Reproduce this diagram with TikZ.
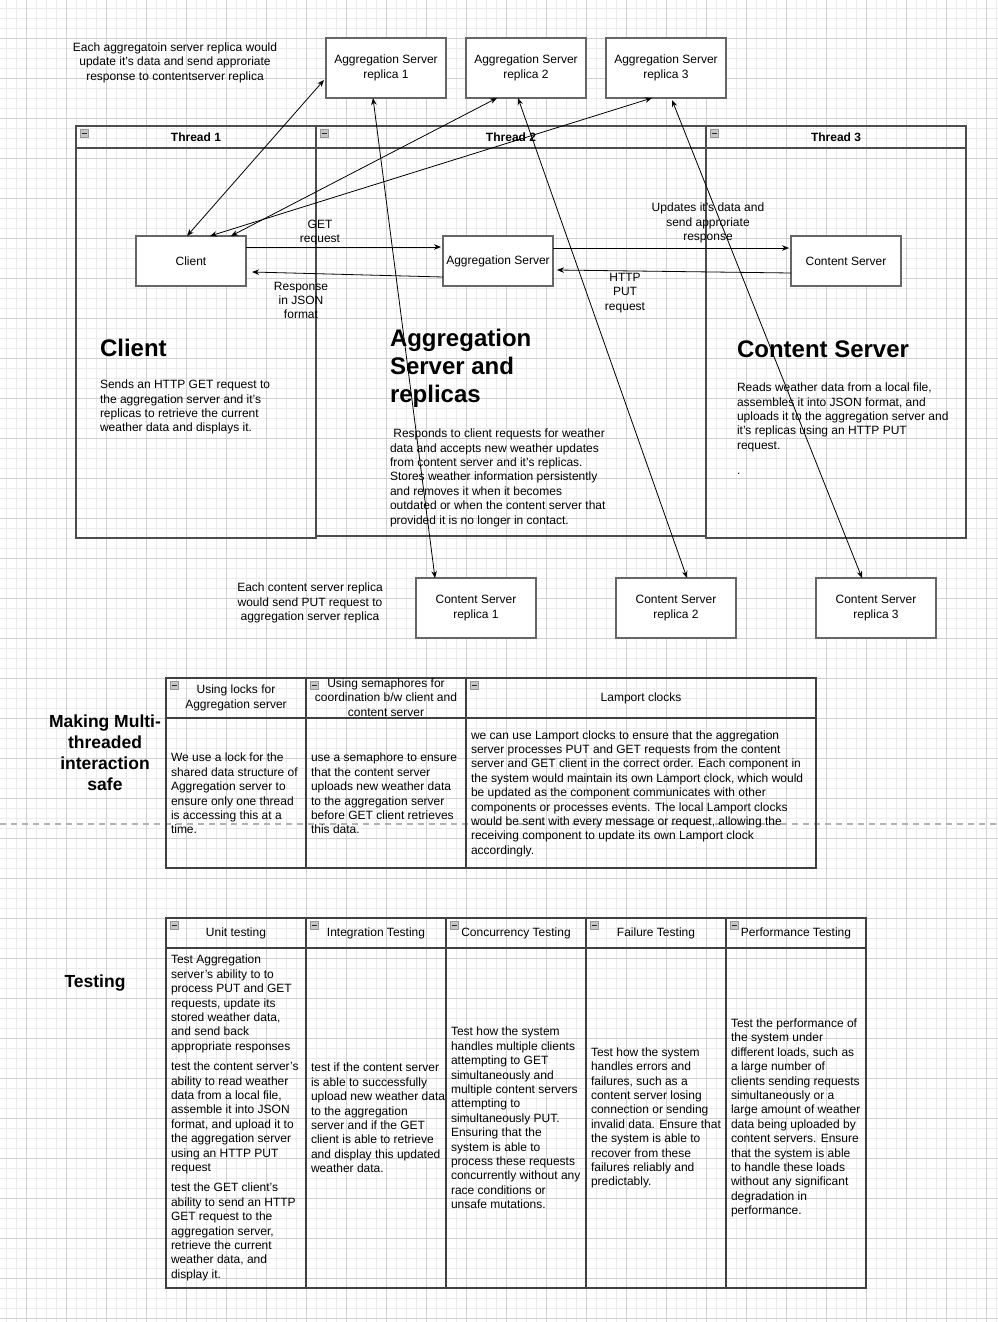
\documentclass[tikz,border=0pt]{standalone}
\usepackage{fontspec}
\setmainfont{Liberation Sans}
\usetikzlibrary{arrows.meta,calc}
\newcommand\mnicon[2]{%
  \draw[fill=gray!45, draw=gray!80, line width=0.5pt] (#1,#2) rectangle ++(8,8);
  \draw[gray!30!black, line width=0.9pt] (#1+1.5,#2+4) -- ++(5,0);}
\begin{document}
\begin{tikzpicture}[x=1pt,y=-1pt,
  >={Stealth[length=7pt,width=5.5pt]},
  every node/.style={font=\fontsize{12}{14.4}\selectfont, inner sep=0pt, outer sep=0pt},
  box/.style={draw=black!60, line width=1.2pt, fill=white, minimum width=120pt, minimum height=60pt, align=center},
  sbox/.style={box, minimum width=110pt, minimum height=50pt},
  lane/.style={draw=black!70, line width=1.3pt},
  tbl/.style={draw=black!75, line width=1.3pt},
  lanehead/.style={font=\fontsize{12}{14.4}\selectfont\bfseries},
  heading/.style={font=\fontsize{24}{28}\selectfont\bfseries, align=left},
  sechead/.style={font=\fontsize{17.5}{21}\selectfont\bfseries, align=center},
  para/.style={align=left},
  note/.style={align=center},
  conn/.style={draw=black, line width=0.8pt},
]
\useasboundingbox (0,0) rectangle (998,1322);
\fill[white] (0,0) rectangle (998,1322);
% grid
\foreach \i in {0,...,99} \draw[black!8, line width=0.5pt] (\i*10+6,0) -- (\i*10+6,1322);
\foreach \i in {0,...,132} \draw[black!8, line width=0.5pt] (0,\i*10+8) -- (998,\i*10+8);
\foreach \i in {0,...,24} \draw[black!18, line width=0.6pt] (\i*40+26,0) -- (\i*40+26,1322);
\foreach \i in {0,...,33} \draw[black!18, line width=0.6pt] (0,\i*40-2) -- (998,\i*40-2);
% page break
\draw[black!30, line width=1.2pt, dash pattern=on 6pt off 5pt] (0,824) -- (998,824);

% lanes
\draw[lane] (76,126) rectangle (316,538);
\draw[lane] (76,148) -- (316,148);
\draw[lane] (316,126) rectangle (706,536);
\draw[lane] (316,148) -- (706,148);
\draw[lane] (706,126) rectangle (966,538);
\draw[lane] (706,148) -- (966,148);
\mnicon{80}{129}\mnicon{320}{129}\mnicon{710}{129}
\node[lanehead] (t1) at (196,137.5) {Thread 1};
\node[lanehead] (t2) at (511,137.5) {Thread 2};
\node[lanehead] (t3) at (836,137.5) {Thread 3};

% lane texts
\node[heading, anchor=north west] (hcl) at (100,339) {Client};
\node[para, anchor=north west] (tcl) at (100,380) {Sends an HTTP GET request to\\the aggregation server and it's\\replicas to retrieve the current\\weather data and displays it.};
\node[heading, anchor=north west] (hag) at (390,329) {Aggregation\\Server and\\replicas};
\node[para, anchor=north west] (tag) at (390,429) {\ Responds to client requests for weather\\data and accepts new weather updates\\from content server and it's replicas.\\Stores weather information persistently\\and removes it when it becomes\\outdated or when the content server that\\provided it is no longer in contact.};
\node[heading, anchor=north west] (hcs) at (737,341) {Content Server};
\node[para, anchor=north west] (tcs) at (737,383) {Reads weather data from a local file,\\assembles it into JSON format, and\\uploads it to the aggregation server and\\it's replicas using an HTTP PUT\\request.};
\node[anchor=base west] (dot) at (737,474) {.};

% notes
\node[note] (n1) at (175,62.5) {Each aggregatoin server replica would\\update it's data and send approriate\\response to contentserver replica};
\node[note] (n2) at (310,603) {Each content server replica\\would send PUT request to\\aggregation server replica};

% boxes
\node[box] (asr1) at (386,68) {Aggregation Server\\replica 1};
\node[box] (asr2) at (526,68) {Aggregation Server\\replica 2};
\node[box] (asr3) at (666,68) {Aggregation Server\\replica 3};
\node[box] (csr1) at (476,608) {Content Server\\replica 1};
\node[box] (csr2) at (676,608) {Content Server\\replica 2};
\node[box] (csr3) at (876,608) {Content Server\\replica 3};
\node[sbox] (client) at (191,261) {Client};
\node[sbox] (agg) at (498,261) {Aggregation Server};
\node[sbox] (cs) at (846,261) {Content Server};

% diagonal connectors
\draw[conn,<->] ([xshift=-4]client.north) -- ([xshift=-2,yshift=-12]asr1.west);
\draw[conn,<->] ([xshift=19]client.north) -- ([xshift=-14]asr3.south);
\draw[conn,<->] ([xshift=40]client.north) -- ([xshift=-29]asr2.south);
\draw[conn,<->] ([xshift=-13]asr1.south) -- ([xshift=-41]csr1.north);
\draw[conn,<->] ([xshift=-8]asr2.south) -- ([xshift=11]csr2.north);
\draw[conn,<->] ([xshift=6,yshift=-2]asr3.south) -- ([xshift=-14]csr3.north);

% horizontal connectors
\draw[conn,->] ([yshift=14]client.east) -- ([xshift=-2,yshift=14]agg.west);
\draw[conn,->] ([yshift=-16]agg.west) -- ([xshift=6,yshift=-11]client.east);
\draw[conn,->] ([yshift=13]agg.east) -- ([xshift=-2,yshift=13]cs.west);
\draw[conn,->] ([yshift=-12]cs.west) -- ([xshift=4,yshift=-9]agg.east);
\node[note] (l1) at (320,232.5) {GET\\request};
\node[note] (l2) at (301,300.5) {Response\\in JSON\\format};
\node[note] (l3) at (708,223) {Updates it's data and\\send approriate\\response};
\node[note] (l4) at (625,293) {HTTP\\PUT\\request};

% multi-threaded table
\node[sechead] (mt) at (105,752.5) {Making Multi-\\threaded\\interaction\\safe};
\draw[tbl] (166,678) rectangle (816,868);
\draw[tbl] (166,718) -- (816,718);
\draw[tbl] (306,678) -- (306,868);
\draw[tbl] (466,678) -- (466,868);
\mnicon{170}{681}\mnicon{310}{681}\mnicon{470}{681}
\node[note] (mh1) at (236,698) {Using locks for\\Aggregation server};
\node[note] (mh2) at (386,697.5) {Using semaphores for\\coordination b/w client and\\content server};
\node[note] (mh3) at (641,698) {Lamport clocks};
\node[para, anchor=west] (mb1) at (171,793.5) {We use a lock for the\\shared data structure of\\Aggregation server to\\ensure only one thread\\is accessing this at a\\time.};
\node[para, anchor=west] (mb2) at (311,793.5) {use a semaphore to ensure\\that the content server\\uploads new weather data\\to the aggregation server\\before GET client retrieves\\this data.};
\node[para, anchor=west] (mb3) at (471,793.5) {we can use Lamport clocks to ensure that the aggregation\\server processes PUT and GET requests from the content\\server and GET client in the correct order. Each component in\\the system would maintain its own Lamport clock, which would\\be updated as the component communicates with other\\components or processes events. The local Lamport clocks\\would be sent with every message or request, allowing the\\receiving component to update its own Lamport clock\\accordingly.};

% testing table
\node[sechead] (ts) at (95,983.5) {Testing};
\draw[tbl] (166,918) rectangle (866,1288);
\draw[tbl] (166,948) -- (866,948);
\foreach \x in {306,446,586,726} \draw[tbl] (\x,918) -- (\x,1288);
\mnicon{170}{921}\mnicon{310}{921}\mnicon{450}{921}\mnicon{590}{921}\mnicon{730}{921}
\node (th1) at (236,933.5) {Unit testing};
\node (th2) at (376,933.5) {Integration Testing};
\node (th3) at (516,933.5) {Concurrency Testing};
\node (th4) at (656,933.5) {Failure Testing};
\node (th5) at (796,933.5) {Performance Testing};
\node[para, anchor=west] (tb1) at (171,1118) {Test Aggregation\\server's ability to to\\process PUT and GET\\requests, update its\\stored weather data,\\and send back\\appropriate responses\\[6pt]test the content server’s\\ability to read weather\\data from a local file,\\assemble it into JSON\\format, and upload it to\\the aggregation server\\using an HTTP PUT\\request\\[6pt]test the GET client’s\\ability to send an HTTP\\GET request to the\\aggregation server,\\retrieve the current\\weather data, and\\display it.};
\node[para, anchor=west] (tb2) at (311,1118) {test if the content server\\is able to successfully\\upload new weather data\\to the aggregation\\server and if the GET\\client is able to retrieve\\and display this updated\\weather data.};
\node[para, anchor=west] (tb3) at (451,1118) {Test how the system\\handles multiple clients\\attempting to GET\\simultaneously and\\multiple content servers\\attempting to\\simultaneously PUT.\\Ensuring that the\\system is able to\\process these requests\\concurrently without any\\race conditions or\\unsafe mutations.};
\node[para, anchor=west] (tb4) at (591,1118) {Test how the system\\handles errors and\\failures, such as a\\content server losing\\connection or sending\\invalid data. Ensure that\\the system is able to\\recover from these\\failures reliably and\\predictably.};
\node[para, anchor=west] (tb5) at (731,1118) {Test the performance of\\the system under\\different loads, such as\\a large number of\\clients sending requests\\simultaneously or a\\large amount of weather\\data being uploaded by\\content servers. Ensure\\that the system is able\\to handle these loads\\without any significant\\degradation in\\performance.};
\end{tikzpicture}
\end{document}
